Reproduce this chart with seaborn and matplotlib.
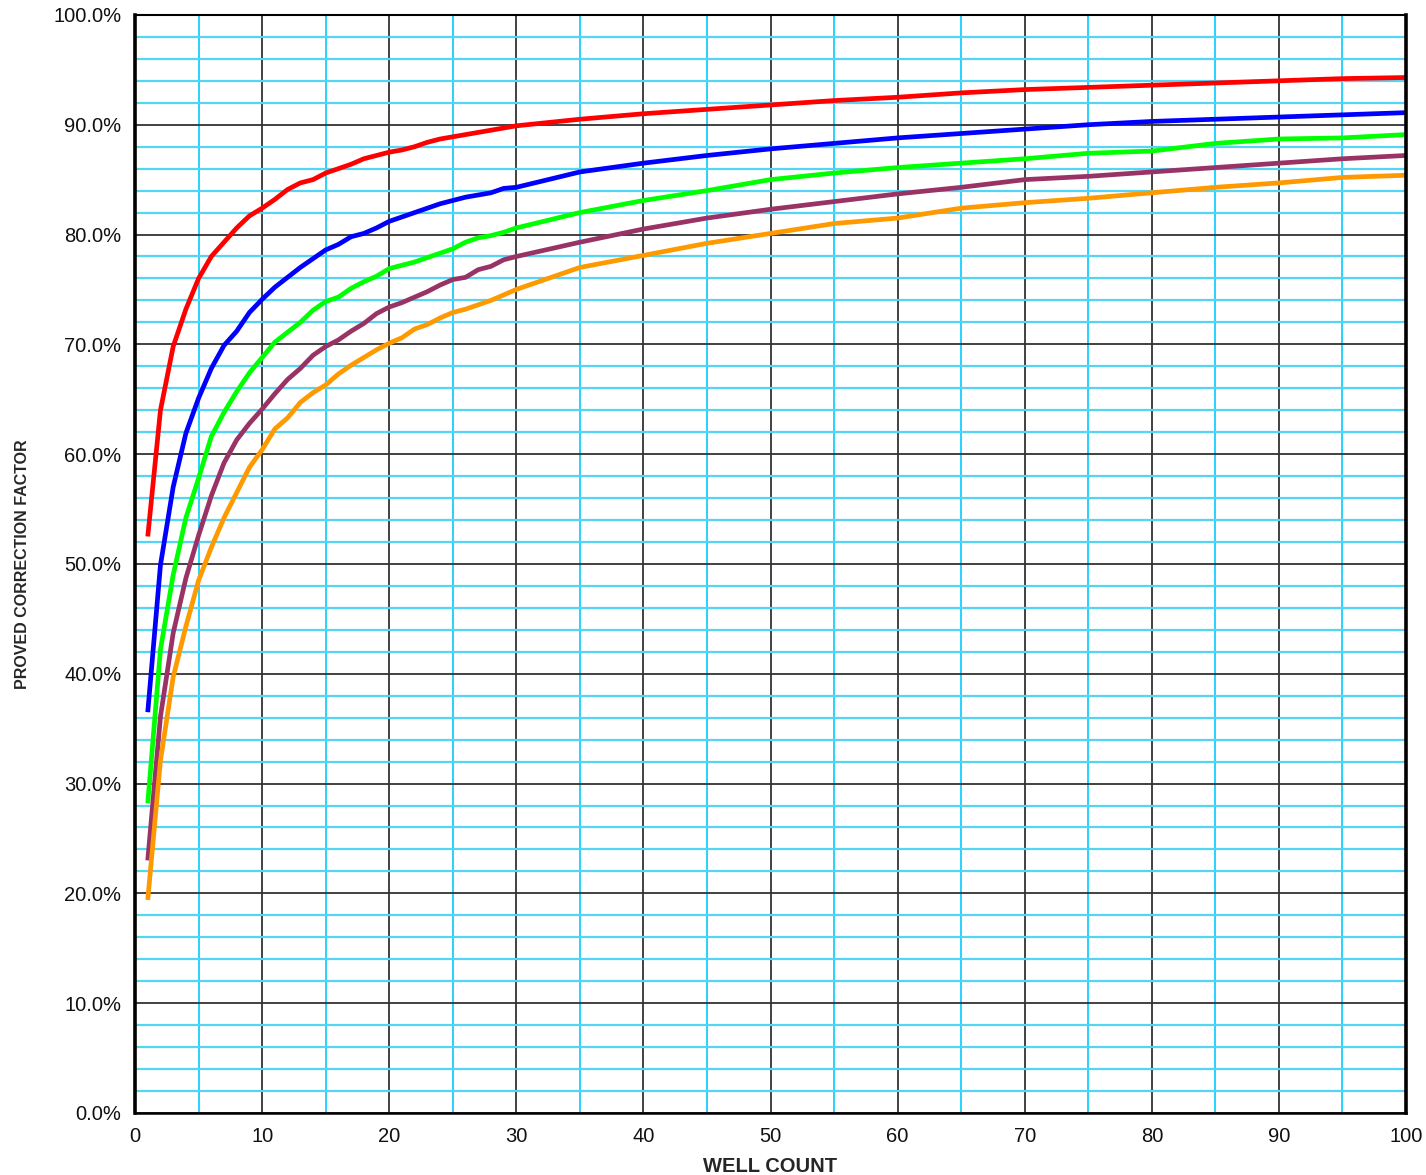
import matplotlib
matplotlib.use("Agg")
import matplotlib.pyplot as plt
from matplotlib.ticker import MultipleLocator, FuncFormatter
import seaborn as sns
import pandas as pd

well_count = [1, 2, 3, 4, 5, 6, 7, 8, 9, 10, 11, 12, 13, 14, 15, 16, 17, 18, 19, 20,
              21, 22, 23, 24, 25, 26, 27, 28, 29, 30, 35, 40, 45, 50, 55, 60, 65, 70,
              75, 80, 85, 90, 95, 100]

red_curve = [52.5, 64.0, 69.8, 73.2, 76.0, 78.0, 79.3, 80.6, 81.7, 82.4, 83.2, 84.1, 84.7,
             85.0, 85.6, 86.0, 86.4, 86.9, 87.2, 87.5, 87.7, 88.0, 88.4, 88.7, 88.9, 89.1,
             89.3, 89.5, 89.7, 89.9, 90.5, 91.0, 91.4, 91.8, 92.2, 92.5, 92.9, 93.2, 93.4,
             93.6, 93.8, 94.0, 94.2, 94.3]
blue_curve = [36.5, 49.9, 57.0, 61.9, 65.1, 67.8, 69.9, 71.2, 72.9, 74.1, 75.2, 76.1, 77.0,
              77.8, 78.6, 79.1, 79.8, 80.1, 80.6, 81.2, 81.6, 82.0, 82.4, 82.8, 83.1, 83.4,
              83.6, 83.8, 84.2, 84.3, 85.7, 86.5, 87.2, 87.8, 88.3, 88.8, 89.2, 89.6, 90.0,
              90.3, 90.5, 90.7, 90.9, 91.1]
green_curve = [28.2, 42.2, 49.0, 54.2, 57.8, 61.6, 63.8, 65.7, 67.4, 68.8, 70.2, 71.1, 72.0,
               73.1, 73.9, 74.3, 75.1, 75.7, 76.2, 76.9, 77.2, 77.5, 77.9, 78.3, 78.7, 79.3,
               79.7, 79.9, 80.2, 80.6, 82.0, 83.1, 84.0, 85.0, 85.6, 86.1, 86.5, 86.9, 87.4,
               87.6, 88.3, 88.7, 88.8, 89.1]
purple_curve = [23.0, 36.1, 43.7, 48.7, 52.6, 56.2, 59.2, 61.3, 62.8, 64.1, 65.5, 66.8, 67.8,
                69.0, 69.8, 70.4, 71.2, 71.9, 72.8, 73.4, 73.8, 74.3, 74.8, 75.4, 75.9, 76.1,
                76.8, 77.1, 77.7, 78.0, 79.3, 80.5, 81.5, 82.3, 83.0, 83.7, 84.3, 85.0, 85.3,
                85.7, 86.1, 86.5, 86.9, 87.2]
orange_curve = [19.4, 32.1, 39.7, 44.3, 48.5, 51.5, 54.2, 56.5, 58.8, 60.4, 62.3, 63.3, 64.7,
                65.6, 66.3, 67.3, 68.1, 68.8, 69.5, 70.1, 70.6, 71.4, 71.8, 72.4, 72.9, 73.2,
                73.6, 74.0, 74.5, 75.0, 77.0, 78.1, 79.2, 80.1, 81.0, 81.5, 82.4, 82.9, 83.3,
                83.8, 84.3, 84.7, 85.2, 85.4]

series_names = ["red", "blue", "green", "purple", "orange"]
series_values = [red_curve, blue_curve, green_curve, purple_curve, orange_curve]
series_colors = ["#FF0000", "#0000FF", "#00FF00", "#993366", "#FF9900"]

rows = []
for name, vals in zip(series_names, series_values):
    for x, v in zip(well_count, vals):
        rows.append({"well": x, "factor": v / 100.0, "series": name})
df = pd.DataFrame(rows)

sns.set_style("white")
plt.rcParams["font.family"] = ["Liberation Sans", "DejaVu Sans"]

fig = plt.figure(figsize=(14.26, 11.75), dpi=100)
ax = fig.add_axes([0.0947, 0.0528, 0.8913, 0.9345])

# grid
ax.set_xlim(0, 100)
ax.set_ylim(0, 1.0)
ax.xaxis.set_major_locator(MultipleLocator(10))
ax.xaxis.set_minor_locator(MultipleLocator(5))
ax.yaxis.set_major_locator(MultipleLocator(0.1))
ax.yaxis.set_minor_locator(MultipleLocator(0.02))
ax.grid(which="minor", axis="x", color="#00CCFF", lw=1.2, zorder=0)
ax.grid(which="minor", axis="y", color="#55D5F5", lw=1.6, zorder=0)
ax.grid(which="major", axis="both", color="#333333", lw=1.3, zorder=1)
ax.set_axisbelow(True)

sns.lineplot(data=df, x="well", y="factor", hue="series", hue_order=series_names,
             palette=dict(zip(series_names, series_colors)), linewidth=3.4,
             legend=False, ax=ax, sort=True, estimator=None)
for line in ax.get_lines():
    line.set_solid_capstyle("butt")
    line.set_solid_joinstyle("round")

ax.yaxis.set_major_formatter(FuncFormatter(lambda v, p: f"{v*100:.1f}%"))
ax.tick_params(which="major", direction="out", length=6, width=1.2, color="#000000",
               labelsize=14.5, labelcolor="#111111", pad=4)
ax.tick_params(which="minor", length=0)

for side, s in ax.spines.items():
    s.set_visible(True)
    s.set_color("#000000")
    s.set_zorder(5)
ax.spines["left"].set_linewidth(2.6)
ax.spines["right"].set_linewidth(2.6)
ax.spines["top"].set_linewidth(1.5)
ax.spines["bottom"].set_linewidth(1.8)

ax.set_xlabel("WELL COUNT", fontsize=14.5, fontweight="bold", labelpad=8,
              family=["Liberation Sans", "DejaVu Sans"])
ax.set_ylabel("")
fig.text(0.0155, 0.52, "PROVED CORRECTION FACTOR", rotation=90, ha="center", va="center",
         fontsize=11.5, fontweight="bold",
         family=["Liberation Sans Narrow", "Liberation Sans", "DejaVu Sans"])

fig.savefig("out.png", dpi=100)
